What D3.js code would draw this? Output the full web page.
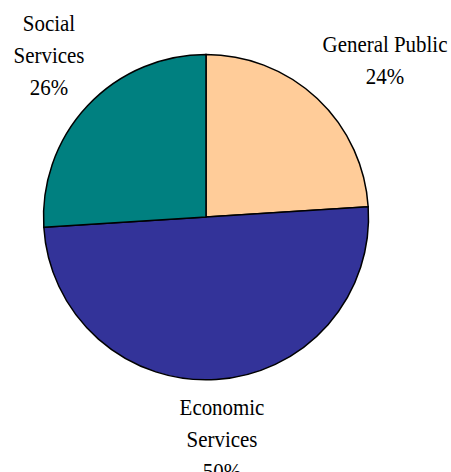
<!DOCTYPE html>
<html lang="en">
<head>
<meta charset="utf-8">
<title>Pie</title>
<script src="https://cdn.jsdelivr.net/npm/d3@7"></script>
<style>
  body { margin: 0; background: #fff; }
  .lbl { font-family: "Liberation Serif", "Times New Roman", serif; font-size: 23px; fill: #000; }
</style>
</head>
<body>
<script>
var w = 451, h = 472;
var cx = 206, cy = 217, r = 162.5;

var categories = ["General Public", "Economic Services", "Social Services"];
var values = [24, 50, 26];
var colors = ["#FFCC99", "#333399", "#008080"];
var labelLines = [["General Public", "24%"], ["Economic", "Services", "50%"], ["Social", "Services", "26%"]];

var svg = d3.select("body").append("svg")
  .attr("width", w)
  .attr("height", h);

var pie = d3.pie().sort(null).value(function(d) { return d; });
var arc = d3.arc().innerRadius(0).outerRadius(r);
var arcs = pie(values);

var g = svg.append("g").attr("transform", "translate(" + cx + "," + cy + ")");

g.selectAll("path")
  .data(arcs)
  .enter()
  .append("path")
  .attr("d", arc)
  .attr("fill", function(d, i) { return colors[i]; })
  .attr("stroke", "#000")
  .attr("stroke-width", 1.5);

// label anchor positions (relative to centre), first-line baseline
var labelPos = [[179, -165], [16, 198], [-157, -186]];
var lineH = 32;

// text in the original is a bit narrow, so squeeze it horizontally
var labels = g.selectAll("text.lbl")
  .data(arcs)
  .enter()
  .append("text")
  .attr("class", "lbl")
  .attr("text-anchor", "middle")
  .attr("transform", function(d, i) { return "translate(" + labelPos[i][0] + "," + labelPos[i][1] + ") scale(0.91,1)"; });

labels.selectAll("tspan")
  .data(function(d, i) { return labelLines[i]; })
  .enter()
  .append("tspan")
  .attr("x", 0)
  .attr("y", function(d, j) { return j * lineH; })
  .text(function(d) { return d; });
</script>
</body>
</html>
